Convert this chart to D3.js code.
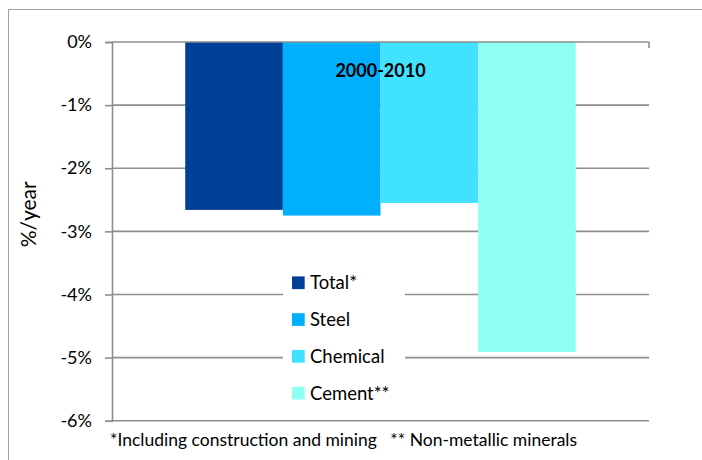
<!DOCTYPE html>
<html>
<head>
<meta charset="utf-8">
<script src="https://cdn.jsdelivr.net/npm/d3@7/dist/d3.min.js"></script>
<style>
  html, body { margin: 0; padding: 0; background: #fff; }
  svg { display: block; font-family: Lato, "Open Sans", sans-serif; }
</style>
</head>
<body>
<svg id="chart" width="702" height="460"></svg>
<script>
// Average annual change in energy intensity, 2000-2010
const period = "2000-2010";
const series = ["Total*", "Steel", "Chemical", "Cement**"];
const values = [-2.66, -2.75, -2.55, -4.91];
const colors = ["#003f98", "#00b0fc", "#40e2ff", "#8efff3"];
const yTicks = [0, -1, -2, -3, -4, -5, -6];
const yTitle = "%/year";
const footnote = "*Including construction and mining \u00a0\u00a0** Non-metallic minerals";

const svg = d3.select("#chart");
const plot = { left: 112, right: 649, top: 42, bottom: 420.7 };
const gridColor = "#8e8e8e";

// outer chart frame (extends past the visible area on right and bottom)
svg.append("rect")
  .attr("x", 8.5).attr("y", 9.5)
  .attr("width", 760).attr("height", 500)
  .attr("fill", "none").attr("stroke", "#a0a0a0").attr("stroke-width", 1);

const y = d3.scaleLinear().domain([-6, 0]).range([plot.bottom, plot.top]);
const x = d3.scaleBand().domain(series)
  .range([plot.left, plot.right])
  .paddingInner(0).paddingOuter(0.75);

// horizontal gridlines
svg.append("g").selectAll("line")
  .data(yTicks.filter(d => d !== 0))
  .join("line")
  .attr("x1", plot.left).attr("x2", plot.right)
  .attr("y1", d => y(d)).attr("y2", d => y(d))
  .attr("stroke", gridColor).attr("stroke-width", 1.6);

// bars
svg.append("g").selectAll("rect")
  .data(series)
  .join("rect")
  .attr("x", d => x(d))
  .attr("width", x.bandwidth())
  .attr("y", y(0))
  .attr("height", (d, i) => y(values[i]) - y(0))
  .attr("fill", (d, i) => colors[i]);

// y axis
const yAxis = d3.axisLeft(y).tickValues(yTicks)
  .tickFormat(d => d + "%").tickSize(7).tickPadding(13);
const ya = svg.append("g").attr("transform", `translate(${plot.left},0)`).call(yAxis);
ya.select(".domain").attr("stroke", gridColor).attr("stroke-width", 1.6);
ya.selectAll(".tick line").attr("stroke", gridColor).attr("stroke-width", 1.6);
ya.selectAll(".tick text")
  .attr("fill", "#000").attr("font-size", 18).attr("font-family", "Lato, sans-serif");

// category axis along zero
const xa = svg.append("g");
xa.append("line")
  .attr("x1", plot.left).attr("x2", plot.right)
  .attr("y1", y(0)).attr("y2", y(0))
  .attr("stroke", gridColor).attr("stroke-width", 1.6);
xa.append("line")
  .attr("x1", plot.right).attr("x2", plot.right)
  .attr("y1", y(0)).attr("y2", y(0) + 6)
  .attr("stroke", gridColor).attr("stroke-width", 1.6);

// period label
svg.append("text")
  .attr("x", (plot.left + plot.right) / 2).attr("y", 77)
  .attr("text-anchor", "middle")
  .attr("font-size", 18).attr("font-weight", "bold")
  .text(period);

// y axis title
svg.append("text")
  .attr("transform", `translate(36,${(plot.top + plot.bottom) / 2 - 17}) rotate(-90)`)
  .attr("text-anchor", "middle")
  .attr("font-size", 21)
  .text(yTitle);

// legend
const legend = svg.append("g");
legend.append("rect")
  .attr("x", 283).attr("y", 264).attr("width", 122).attr("height", 145)
  .attr("fill", "#fff");
const item = legend.selectAll("g.item").data(series).join("g")
  .attr("class", "item")
  .attr("transform", (d, i) => `translate(292,${282.7 + i * 36.8})`);
item.append("rect")
  .attr("x", 0).attr("y", -6.3).attr("width", 12.7).attr("height", 12.7)
  .attr("fill", (d, i) => colors[i]);
item.append("text")
  .attr("x", 18).attr("y", 0).attr("dy", "0.35em")
  .attr("font-size", 18.5)
  .text(d => d);

// footnote
svg.append("text")
  .attr("x", 110).attr("y", 445.5)
  .attr("font-size", 17.5)
  .text(footnote);
</script>
</body>
</html>
